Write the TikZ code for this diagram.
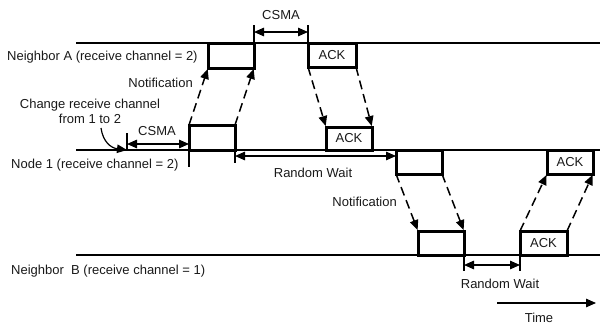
\documentclass[tikz,border=0pt]{standalone}
\usepackage{fontspec}
\setmainfont{Liberation Sans}
\usetikzlibrary{arrows.meta,calc}
\begin{document}
\begin{tikzpicture}[x=1pt,y=-1pt,
  every node/.style={font=\fontsize{13}{15}\selectfont, text=black!90},
  tip/.tip={Triangle[length=10pt,width=8.5pt]},
  timeline/.style={line width=1.3pt},
  pkt/.style={draw, line width=3pt, minimum width=46pt, minimum height=24pt, inner sep=0pt, outer sep=0pt},
  msg/.style={line width=1.5pt, dash pattern=on 9pt off 5pt, -tip, shorten >=1pt},
  span/.style={line width=1.3pt, tip-tip},
  tick/.style={line width=1.2pt},
  lbl/.style={inner sep=0pt}]
\useasboundingbox (0,0) rectangle (600,324);

% time lines
\coordinate (aL) at (76,43);  \coordinate (aR) at (600,43);
\coordinate (nL) at (76,150); \coordinate (nR) at (600,150);
\coordinate (bL) at (76,255); \coordinate (bR) at (600,255);
\draw[timeline] (aL) -- (aR);
\draw[timeline] (nL) -- (nR);
\draw[timeline] (bL) -- (bR);

% row labels
\node[lbl, anchor=west] (labA) at (7,57) {Neighbor A (receive channel = 2)};
\node[lbl, anchor=west] (lab1) at (11,165) {Node 1 (receive channel = 2)};
\node[lbl, anchor=west] (labB) at (11,271) {Neighbor\ \ B (receive channel = 1)};

% frames
\node[pkt, minimum height=25pt] (bA) at (231,55.5) {};
\node[pkt, minimum width=48pt] (ackA) at (332,55) {ACK};
\node[pkt, minimum height=25pt] (bN1) at (212,137.5) {};
\node[pkt, minimum height=23pt] (ackN1) at (349,138.5) {ACK};
\node[pkt] (bN2) at (419,162) {};
\node[pkt] (ackN2) at (570,162) {ACK};
\node[pkt] (bB) at (441,243) {};
\node[pkt, minimum width=47pt] (ackB) at (543.5,243) {ACK};

% transmissions
\draw[msg] (bN1.north west) -- (bA.south west);
\draw[msg] (bN1.north east) -- (bA.south east);
\draw[msg] (ackA.south west) -- (ackN1.north west);
\draw[msg] (ackA.south east) -- (ackN1.north east);
\draw[msg] (bN2.south west) -- (bB.north west);
\draw[msg] (bN2.south east) -- (bB.north east);
\draw[msg] (ackB.north west) -- (ackN2.south west);
\draw[msg] (ackB.north east) -- (ackN2.south east);

\node[lbl, anchor=east] (notif1) at (193,83) {Notification};
\node[lbl, anchor=east] (notif2) at (397,202) {Notification};

% CSMA at neighbor A
\coordinate (cA1) at (254,25); \coordinate (cA2) at (308,25);
\draw[tick] (bA.north east) -- (cA1);
\draw[tick] (ackA.north west) -- (cA2);
\coordinate (sA1) at (254,32); \coordinate (sA2) at (308,32);
\draw[span] (sA1) -- (sA2);
\node[lbl] (csmaA) at (281,15) {CSMA};

% CSMA at node 1
\coordinate (c1top) at (127,133); \coordinate (c1bot) at (127,150);
\draw[tick] (c1top) -- (c1bot);
\coordinate (s11) at (127,144); \coordinate (s12) at (189,144);
\draw[span] (s11) -- (s12);
\node[lbl] (csma1) at (157,131) {CSMA};
\coordinate (t1) at (189,167);
\draw[tick] (bN1.south west) -- (t1);

% channel switch note
\node[lbl, align=center] (chg) at (90,111.5) {Change receive channel\\[-0.5pt]from 1 to 2};
\coordinate (cs0) at (101,128);
\draw[line width=1.2pt, -tip] (cs0) .. controls (103,142) and (111,148) .. (c1bot);

% random wait at node 1
\coordinate (t2) at (235,163);
\draw[tick] (bN1.south east) -- (t2);
\coordinate (r11) at (235,156); \coordinate (r12) at (396,156);
\draw[span] (r11) -- (r12);
\node[lbl] (rw1) at (313,173) {Random Wait};

% random wait at neighbor B
\coordinate (t3) at (464,271); \coordinate (t4) at (520,271);
\draw[tick] (bB.south east) -- (t3);
\draw[tick] (ackB.south west) -- (t4);
\coordinate (r21) at (464,265); \coordinate (r22) at (520,265);
\draw[span] (r21) -- (r22);
\node[lbl] (rw2) at (500,284) {Random Wait};

% time axis
\coordinate (tm0) at (497,303); \coordinate (tm1) at (596,303);
\draw[line width=1.3pt, -tip] (tm0) -- (tm1);
\node[lbl] (time) at (539,318) {Time};
\end{tikzpicture}
\end{document}
